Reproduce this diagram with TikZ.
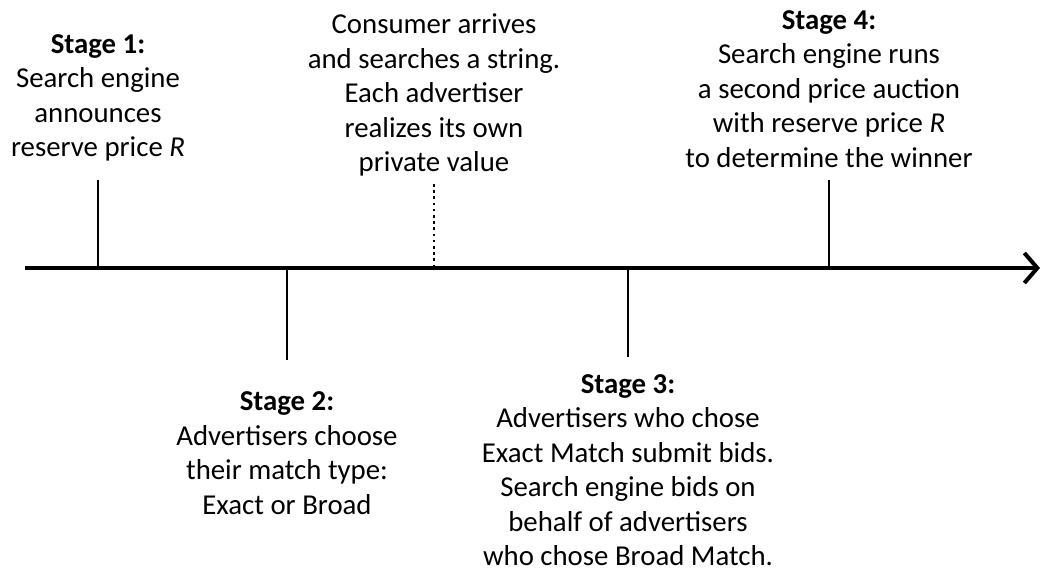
\documentclass[tikz,border=0pt]{standalone}
\usepackage{fontspec}
\setmainfont{Carlito}
\usetikzlibrary{arrows.meta}
\begin{document}
\begin{tikzpicture}[x=1pt,y=-1pt,
  lbl/.style={align=center,inner sep=0pt,font=\fontsize{28.8}{34.5}\selectfont},
  tick/.style={line width=2.8pt},
  axis/.style={line width=4pt,-{Straight Barb[length=13pt,width=30pt,line width=4pt]}},
  dotline/.style={line width=2.6pt,dash pattern=on 2.6pt off 3.6pt}]
\useasboundingbox (0,0) rectangle (1045,569);
% axis
\coordinate (a0) at (25,268);
\coordinate (a1) at (1040,268);
\draw[axis] (a0) -- (a1);
% ticks
\coordinate (t1a) at (98,180);  \coordinate (t1b) at (98,268);
\coordinate (t2a) at (287,268); \coordinate (t2b) at (287,360);
\coordinate (dca) at (434,184); \coordinate (dcb) at (434,268);
\coordinate (t3a) at (628,268); \coordinate (t3b) at (628,357);
\coordinate (t4a) at (829,180); \coordinate (t4b) at (829,268);
\draw[tick] (t1a) -- (t1b);
\draw[tick] (t2a) -- (t2b);
\draw[dotline] (dca) -- (dcb);
\draw[tick] (t3a) -- (t3b);
\draw[tick] (t4a) -- (t4b);
% labels
\node[lbl] (s1) at (98,98) {\textbf{Stage 1:}\\Search engine\\announces\\reserve price \textit{R}};
\node[lbl] (cons) at (434,95) {Consumer arrives\\and searches a string.\\Each advertiser\\realizes its own\\private value};
\node[lbl] (s4) at (829,89) {\textbf{Stage 4:}\\Search engine runs\\a second price auction\\with reserve price \textit{R}\\to determine the winner};
\node[lbl] (s2) at (287,453) {\textbf{Stage 2:}\\Advertisers choose\\their match type:\\Exact or Broad};
\node[lbl] (s3) at (628,470) {\textbf{Stage 3:}\\Advertisers who chose\\Exact Match submit bids.\\Search engine bids on\\behalf of advertisers\\who chose Broad Match.};
\end{tikzpicture}
\end{document}
